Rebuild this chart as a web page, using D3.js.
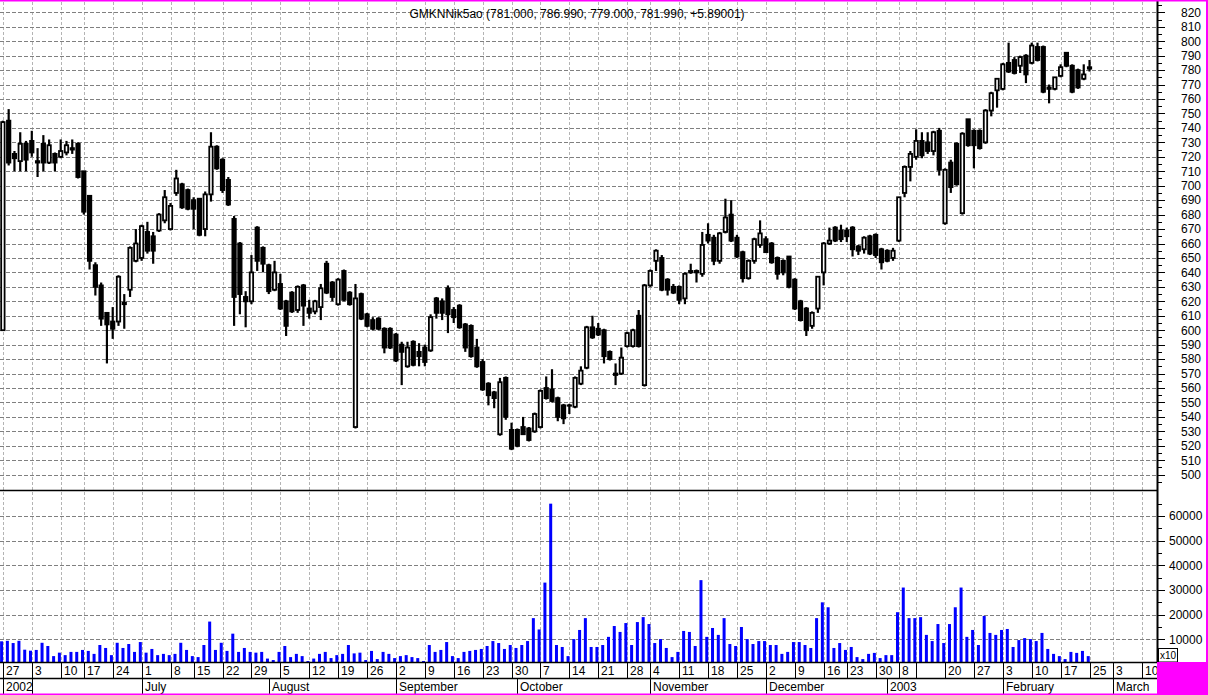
<!DOCTYPE html>
<html><head><meta charset="utf-8">
<script src="https://cdn.jsdelivr.net/npm/d3@7/dist/d3.min.js"></script>
<style>body{margin:0;background:#fff}svg{display:block}text{font-family:"Liberation Sans",Arial,sans-serif;fill:#000}</style>
</head><body><svg id="c" width="1208" height="695"></svg>
<script>
const title = "GMKNNik5ao (781.000, 786.990, 779.000, 781.990, +5.89001)";
const weekStarts = ["2002-05-27","2002-06-03","2002-06-10","2002-06-17","2002-06-24","2002-07-01","2002-07-08","2002-07-15","2002-07-22","2002-07-29","2002-08-05","2002-08-12","2002-08-19","2002-08-26","2002-09-02","2002-09-09","2002-09-16","2002-09-23","2002-09-30","2002-10-07","2002-10-14","2002-10-21","2002-10-28","2002-11-04","2002-11-11","2002-11-18","2002-11-25","2002-12-02","2002-12-09","2002-12-16","2002-12-23","2002-12-30","2003-01-08","2003-01-13","2003-01-20","2003-01-27","2003-02-03","2003-02-10","2003-02-17","2003-02-25","2003-03-03","2003-03-10"];
const weekDays = [5,5,4,5,5,5,4,5,5,5,5,5,5,5,5,5,5,5,5,5,5,5,4,5,5,5,5,5,5,4,5,4,3,5,5,5,5,5,5,4,5,3];
const weekLabels = ["27","3","10","17","24","1","8","15","22","29","5","12","19","26","2","9","16","23","30","7","14","21","28","4","11","18","25","2","9","16","23","30","8","","20","27","3","10","17","25","3","10"];
const monthLabels = ["2002","","July","August","September","October","November","December","2003","February","March"];

const open = [600,745,722,717,729,731,716,729,716,722,720,723,726,729,710,693,645,631,612,606,606,618,628,648,650,668,665,669,676,670,695,701,697,690,691,670,694,727,
718,704,677,660,623,620,671,657,645,628,632,620,626,614,631,615,613,616,646,633,618,641,626,533,625,611,607,608,601,601,597,590,575,592,585,588,586,622,
620,629,614,617,604,603,588,578,563,557,528,567,531,531,533,532,530,533,560,559,553,548,548,547,563,574,602,601,600,585,570,570,589,589,610,562,631,648,
650,635,630,630,622,640,641,639,666,664,648,668,680,664,654,636,648,659,663,660,650,648,651,635,620,615,603,615,640,660,671,669,669,671,658,656,665,666,656,655,650,
662,695,713,720,731,730,724,738,674,716,729,681,746,738,738,730,752,766,767,785,787,783,790,785,796,796,768,767,776,792,783,780,774,781];
const high = [745,753,724,737,731,738,726,735,732,723,732,731,732,730,710,693,647,633,612,616,638,625,658,670,673,675,668,681,697,688,711,702,698,692,691,696,737,728,
719,706,679,661,627,652,672,658,646,648,639,621,627,631,632,621,621,632,648,634,636,642,627,632,626,612,609,609,602,602,598,592,592,593,591,590,611,623,
622,631,616,618,605,604,594,580,564,558,567,568,536,532,540,533,543,559,568,573,554,549,549,568,575,603,610,605,601,586,577,588,599,601,614,632,642,656,
652,636,632,631,640,646,642,668,674,666,668,691,690,666,655,649,664,676,665,661,651,649,651,636,621,616,613,637,661,671,672,673,671,672,659,665,666,667,657,656,657,
692,714,724,739,737,737,738,740,712,718,730,737,746,739,739,753,765,774,785,799,789,790,791,799,799,797,770,775,784,792,784,781,784,787];
const low = [600,714,710,710,710,720,706,710,715,710,719,721,722,705,680,642,624,603,577,594,603,601,623,647,648,653,646,668,674,669,693,684,683,670,665,665,689,711,
695,686,603,611,602,618,641,640,625,627,614,596,612,612,603,608,611,607,625,620,617,620,617,532,607,602,600,600,584,587,578,562,574,575,575,575,585,608,
607,598,605,601,585,581,574,558,548,546,527,538,517,519,528,523,529,532,552,550,537,535,542,546,562,573,594,596,577,579,562,569,588,588,588,561,630,641,
627,624,625,618,618,639,633,637,660,645,646,667,661,650,633,635,646,657,654,646,635,638,629,614,606,596,601,612,631,659,661,661,661,651,652,653,652,650,642,647,648,
661,692,703,718,719,722,721,707,673,695,700,680,727,712,725,729,748,754,766,778,777,778,771,784,786,764,757,766,775,782,764,767,773,779];
const close = [744,716,719,729,718,723,717,716,728,716,724,728,725,706,682,648,630,608,604,601,637,619,657,660,672,655,655,680,692,686,705,685,684,684,666,694,727,712,
697,687,623,625,620,640,648,646,627,640,615,603,613,630,617,612,620,629,626,623,635,621,618,622,608,603,601,601,588,588,579,585,588,576,582,578,609,612,
612,611,609,602,588,582,575,559,555,553,564,540,518,520,528,524,542,558,553,551,540,539,548,567,572,602,595,597,582,580,569,581,598,600,589,631,641,655,
628,628,626,621,639,641,640,659,662,648,667,678,662,651,636,648,663,667,654,647,639,640,630,615,607,600,612,637,660,662,662,663,665,656,655,664,653,652,647,648,655,
692,713,722,731,721,724,737,711,711,699,701,736,728,728,726,752,764,774,784,779,778,789,777,797,787,765,767,775,782,783,765,768,777,782];
const volume = [9200,9400,8500,9400,5800, 5400,5700,8600,7300,3200, 4600,3600,4900,4900, 5700,5300,4100,7700,6500, 3600,8600,6500,8100,4900,
8900,4600,6100,3600,4100, 3600,4100,8600,5700, 3200,2800,7700,17200,5700, 8600,5300,12300,4900,6500, 4900,4600,4900,2200,1600,
4900,7300,2800,4100,3200, 1200,2200,4100,4900,2400, 3600,4100,7700,4300,4600, 1600,5300,2000,4900,4100, 2400,3200,3600,2800,2400,
1200,7700,4900,5700,8900, 3200,2400,4900,5300,5700, 6100,7300,9300,8500,6100, 7700,6500,7700,9300,18600, 14000,33000,65000,7700,6900,
3200,10100,13800,18600,6900, 6900,7700,11000,15400,13000, 16600,7700,17000,19000, 16200,8500,10100,6500,2800, 4900,13400,13000,7300,34000,
11000,14600,11800,18600,8100, 7300,15000,10100,8100,9300, 9300,7700,7700,4100,4900, 8900,8900,7700,6500,18600, 25000,23000,6500,8500,
5700,6900,2800,2000,4100, 4500,2400,3600,3600, 21000,31000,18600, 18600,19000,11800,9300,16200, 8500,16200,23000,31000,11000,
13800,7700,19500,12600,11800, 13800,14200,6900,9700,10500, 10100,9300,12600,6100,4100, 3200,2000,4900,4500,5300, 3200];
const priceTicks = d3.range(500, 821, 10);
const volumeTicks = [10000,20000,30000,40000,50000,60000];

// layout
const W = 1208, H = 695, plotR = 1156, axisX = 1157;
const priceBottom = 490, volBottom = 662, row1 = 678, row2 = 694;

// slots
const slots = [];
weekStarts.forEach((ws, w) => {
  const d = new Date(ws + "T12:00:00");
  let n = 0;
  while (n < weekDays[w]) {
    const wd = d.getDay();
    if (wd !== 0 && wd !== 6) { slots.push({date: new Date(d), week: w, first: n === 0}); n++; }
    d.setDate(d.getDate() + 1);
  }
});
const x = d3.scaleBand().domain(d3.range(slots.length)).range([0, plotR]).padding(0);
const xc = i => x(i) + x.bandwidth() / 2;
const y = d3.scaleLinear().domain([500, 820]).range([474.7, 12.3]);
const yv = d3.scaleLinear().domain([0, 60000]).range([664, 516]);

const svg = d3.select("#c");
svg.append("rect").attr("width", W).attr("height", H).attr("fill", "#fff");
const defs = svg.append("defs");
defs.append("clipPath").attr("id", "cp").append("rect").attr("x", 0).attr("y", 1).attr("width", plotR).attr("height", priceBottom - 1);
defs.append("clipPath").attr("id", "cv").append("rect").attr("x", 0).attr("y", priceBottom).attr("width", plotR).attr("height", volBottom - priceBottom);

const weekIdx = slots.map((s, i) => s.first ? i : -1).filter(i => i >= 0);
const monthIdx = slots.map((s, i) => (i === 0 || s.date.getMonth() !== slots[i - 1].date.getMonth()) ? i : -1).filter(i => i >= 0);

// grid
const grid = svg.append("g");
grid.selectAll(".vg").data(weekIdx).join("line")
  .attr("x1", i => Math.round(xc(i)) + 0.5).attr("x2", i => Math.round(xc(i)) + 0.5)
  .attr("y1", 2).attr("y2", volBottom)
  .attr("stroke", "#b4b4b4").attr("stroke-dasharray", "3,2");
grid.selectAll(".hg").data(priceTicks).join("line")
  .attr("x1", 0).attr("x2", plotR).attr("y1", d => Math.round(y(d)) + 0.5).attr("y2", d => Math.round(y(d)) + 0.5)
  .attr("stroke", "#808080").attr("stroke-dasharray", "4,2");
grid.selectAll(".hv").data(volumeTicks).join("line")
  .attr("x1", 0).attr("x2", plotR).attr("y1", d => Math.round(yv(d)) + 0.5).attr("y2", d => Math.round(yv(d)) + 0.5)
  .attr("stroke", "#808080").attr("stroke-dasharray", "4,2");

// title
svg.append("text").attr("x", 577).attr("y", 17.5).attr("text-anchor", "middle").attr("font-size", 12).text(title);

// candles
const bars = open.map((o, i) => ({i, o, h: high[i], l: low[i], c: close[i]}));
const gp = svg.append("g").attr("clip-path", "url(#cp)");
gp.selectAll(".wick").data(bars).join("line")
  .attr("x1", d => xc(d.i)).attr("x2", d => xc(d.i))
  .attr("y1", d => y(d.h)).attr("y2", d => y(d.l))
  .attr("stroke", "#000").attr("stroke-width", 2.2);
gp.selectAll(".body").data(bars).join("rect")
  .attr("x", d => xc(d.i) - 1.7).attr("width", 3.4)
  .attr("y", d => y(Math.max(d.o, d.c)))
  .attr("height", d => Math.max(0.4, Math.abs(y(d.o) - y(d.c))))
  .attr("fill", d => d.c >= d.o ? "#fff" : "#000")
  .attr("stroke", "#000").attr("stroke-width", 1.8);

// volume
const gv = svg.append("g").attr("clip-path", "url(#cv)");
gv.selectAll(".vol").data(volume).join("rect")
  .attr("x", (v, i) => xc(i) - 2.8).attr("width", 3)
  .attr("y", v => yv(v)).attr("height", v => Math.max(0, volBottom - yv(v)))
  .attr("fill", "#0000ff");

// panel separator and axis
svg.append("line").attr("x1", 0).attr("x2", axisX).attr("y1", priceBottom + 0.5).attr("y2", priceBottom + 0.5).attr("stroke", "#000").attr("stroke-width", 1.5);
svg.append("line").attr("x1", axisX + 0.5).attr("x2", axisX + 0.5).attr("y1", 0).attr("y2", volBottom).attr("stroke", "#000").attr("stroke-width", 2);

// price axis ticks
const pMinor = d3.range(495, 826, 5);
svg.selectAll(".pt").data(pMinor).join("line")
  .attr("x1", axisX).attr("x2", d => axisX + (d % 10 === 0 ? 8 : 5))
  .attr("y1", d => Math.round(y(d)) + 0.5).attr("y2", d => Math.round(y(d)) + 0.5)
  .attr("stroke", "#000");
svg.selectAll(".pl").data(priceTicks).join("text")
  .attr("x", 1181).attr("y", d => y(d) + 4.3).attr("font-size", 12).text(d => d);

// volume axis ticks
const vMinor = d3.range(5000, 66000, 5000);
svg.selectAll(".vt").data(vMinor).join("line")
  .attr("x1", axisX).attr("x2", d => axisX + (d % 10000 === 0 ? 8 : 5))
  .attr("y1", d => Math.round(yv(d)) + 0.5).attr("y2", d => Math.round(yv(d)) + 0.5)
  .attr("stroke", "#000");
svg.selectAll(".vl").data(volumeTicks).join("text")
  .attr("x", 1169).attr("y", d => yv(d) + 4.3).attr("font-size", 12).text(d => d);
svg.append("rect").attr("x", 1158.5).attr("y", 648.5).attr("width", 19).attr("height", 13.5).attr("fill", "#fff").attr("stroke", "#000");
svg.append("text").attr("x", 1160).attr("y", 659).attr("font-size", 10).text("x10");

// date axis
svg.append("line").attr("x1", 0).attr("x2", axisX).attr("y1", volBottom + 0.5).attr("y2", volBottom + 0.5).attr("stroke", "#000").attr("stroke-width", 1.5);
svg.append("line").attr("x1", 0).attr("x2", axisX).attr("y1", row1 + 0.5).attr("y2", row1 + 0.5).attr("stroke", "#000").attr("stroke-width", 1.5);
const gd = svg.append("g");
gd.selectAll(".ws").data(weekIdx).join("line")
  .attr("x1", i => Math.round(xc(i)) + 0.5).attr("x2", i => Math.round(xc(i)) + 0.5)
  .attr("y1", volBottom).attr("y2", row1).attr("stroke", "#000");
gd.selectAll(".wl").data(weekIdx).join("text")
  .attr("x", i => Math.round(xc(i)) + 3).attr("y", 675).attr("font-size", 12)
  .text((i, k) => weekLabels[k]);
gd.selectAll(".ms").data(monthIdx).join("line")
  .attr("x1", i => Math.round(xc(i)) + 0.5).attr("x2", i => Math.round(xc(i)) + 0.5)
  .attr("y1", row1).attr("y2", row2).attr("stroke", "#000");
gd.selectAll(".ml").data(monthIdx).join("text")
  .attr("x", i => Math.round(xc(i)) + 3).attr("y", 691).attr("font-size", 12)
  .text((i, k) => monthLabels[k]);

// magenta frame
svg.append("rect").attr("x", axisX).attr("y", volBottom).attr("width", W - axisX).attr("height", H - volBottom).attr("fill", "#ff00ff");
svg.append("rect").attr("x", 0).attr("y", 0).attr("width", W).attr("height", 1.5).attr("fill", "#ff00ff");
svg.append("rect").attr("x", W - 2).attr("y", 0).attr("width", 2).attr("height", H).attr("fill", "#ff00ff");
svg.append("rect").attr("x", 0).attr("y", H - 1.5).attr("width", W).attr("height", 1.5).attr("fill", "#ff00ff");
</script></body></html>
